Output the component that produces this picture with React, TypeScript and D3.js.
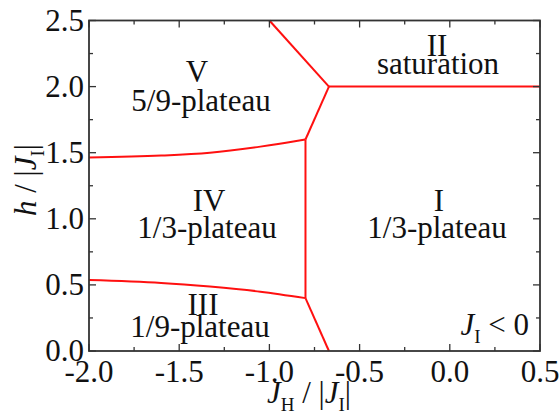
import React from "react";
import * as d3 from "d3";

const xMajorTicks = [-2.0, -1.5, -1.0, -0.5, 0.0, 0.5];
const xMinorTicks = [-1.75, -1.25, -0.75, -0.25, 0.25];
const yMajorTicks = [0.0, 0.5, 1.0, 1.5, 2.0, 2.5];
const yMinorTicks = [0.25, 0.75, 1.25, 1.75, 2.25];

// phase boundaries [J_H, h]
const lineVtoII: [number, number][] = [[-1.0, 2.5], [-0.67, 2.0]];
const lineSaturation: [number, number][] = [[-0.67, 2.0], [0.5, 2.0]];
const lineVtoI: [number, number][] = [[-0.67, 2.0], [-0.8, 1.6]];
const upperCurve: [number, number][] = [[-2.0, 1.463], [-1.6, 1.478], [-1.33, 1.5], [-1.05, 1.546], [-0.867, 1.584], [-0.8, 1.6]];
const verticalLine: [number, number][] = [[-0.8, 1.6], [-0.8, 0.4]];
const lowerCurve: [number, number][] = [[-2.0, 0.537], [-1.6, 0.515], [-1.33, 0.487], [-1.05, 0.449], [-0.8, 0.4]];
const lineIIItoI: [number, number][] = [[-0.8, 0.4], [-0.67, 0.0]];

const W = 559, H = 414;
const left = 89, right = 540, top = 20.5, bottom = 351;

export default function App() {
  const x = d3.scaleLinear().domain([-2, 0.5]).range([left, right]);
  const y = d3.scaleLinear().domain([0, 2.5]).range([bottom, top]);
  const straight = d3.line<[number, number]>().x(d => x(d[0])).y(d => y(d[1]));
  const curved = d3.line<[number, number]>().x(d => x(d[0])).y(d => y(d[1])).curve(d3.curveMonotoneX);
  const font = "Liberation Serif";
  const fs = 31;
  const sub = 19;
  const majorLen = 7, minorLen = 4;
  const axisColor = "#333";
  const red = "#ff1010";
  const fmt = (t: number) => d3.format(".1f")(t).replace("\u2212", "-");
  const ts = { fontFamily: font, fontSize: fs };

  return (
    <svg width={W} height={H} style={{ position: "absolute", left: 0, top: 0 }}>
      <rect width={W} height={H} fill="white" />
      {/* lines */}
      <g fill="none" stroke={red} strokeWidth={2}>
        <path d={straight(lineVtoII)!} />
        <path d={straight(lineSaturation)!} />
        <path d={straight(lineVtoI)!} />
        <path d={curved(upperCurve)!} />
        <path d={straight(verticalLine)!} />
        <path d={curved(lowerCurve)!} />
        <path d={straight(lineIIItoI)!} />
      </g>
      {/* ticks */}
      <g stroke={axisColor} strokeWidth={1.3}>
        {xMajorTicks.map(t => (
          <g key={"xm" + t}>
            <line x1={x(t)} x2={x(t)} y1={bottom} y2={bottom - majorLen} />
            <line x1={x(t)} x2={x(t)} y1={top} y2={top + majorLen} />
          </g>
        ))}
        {xMinorTicks.map(t => (
          <g key={"xn" + t}>
            <line x1={x(t)} x2={x(t)} y1={bottom} y2={bottom - minorLen} />
            <line x1={x(t)} x2={x(t)} y1={top} y2={top + minorLen} />
          </g>
        ))}
        {yMajorTicks.map(t => (
          <g key={"ym" + t}>
            <line x1={left} x2={left + majorLen} y1={y(t)} y2={y(t)} />
            <line x1={right} x2={right - majorLen} y1={y(t)} y2={y(t)} />
          </g>
        ))}
        {yMinorTicks.map(t => (
          <g key={"yn" + t}>
            <line x1={left} x2={left + minorLen} y1={y(t)} y2={y(t)} />
            <line x1={right} x2={right - minorLen} y1={y(t)} y2={y(t)} />
          </g>
        ))}
      </g>
      <rect x={left} y={top} width={right - left} height={bottom - top} fill="none" stroke={axisColor} strokeWidth={1.8} />
      {/* tick labels */}
      <g fill="#111">
        {xMajorTicks.map(t => (
          <text key={"xl" + t} x={x(t)} y={382} textAnchor="middle" style={ts}>{fmt(t)}</text>
        ))}
        {yMajorTicks.map(t => (
          <text key={"yl" + t} x={84} y={y(t) + 10} textAnchor="end" style={ts}>{fmt(t)}</text>
        ))}
      </g>
      {/* axis labels */}
      <text x={309} y={403} textAnchor="middle" style={ts} fill="#111">
        <tspan fontStyle="italic">J</tspan>
        <tspan style={{ fontSize: sub }} dy={8}>H</tspan>
        <tspan dy={-8}> / |</tspan>
        <tspan fontStyle="italic">J</tspan>
        <tspan style={{ fontSize: sub }} dy={8}>I</tspan>
        <tspan dy={-8}>|</tspan>
      </text>
      <text transform="translate(36,180) rotate(-90)" textAnchor="middle" style={ts} fill="#111">
        <tspan fontStyle="italic">h</tspan>
        <tspan> / |</tspan>
        <tspan fontStyle="italic">J</tspan>
        <tspan style={{ fontSize: sub }} dy={8}>I</tspan>
        <tspan dy={-8}>|</tspan>
      </text>
      {/* region labels */}
      <g fill="#111" textAnchor="middle">
        <text x={197} y={82} style={ts}>V</text>
        <text x={201} y={111} style={ts}>5/9-plateau</text>
        <text x={437} y={56} style={ts}>II</text>
        <text x={438} y={74} style={ts}>saturation</text>
        <text x={209} y={211} style={ts}>IV</text>
        <text x={207} y={238} style={ts}>1/3-plateau</text>
        <text x={439} y={211} style={ts}>I</text>
        <text x={437} y={238} style={ts}>1/3-plateau</text>
        <text x={203} y={315} style={ts}>III</text>
        <text x={200} y={337} style={ts}>1/9-plateau</text>
      </g>
      <text x={529} y={335} textAnchor="end" style={ts} fill="#111">
        <tspan fontStyle="italic">J</tspan>
        <tspan style={{ fontSize: sub }} dy={8}>I</tspan>
        <tspan dy={-8}> {"<"} 0</tspan>
      </text>
    </svg>
  );
}
